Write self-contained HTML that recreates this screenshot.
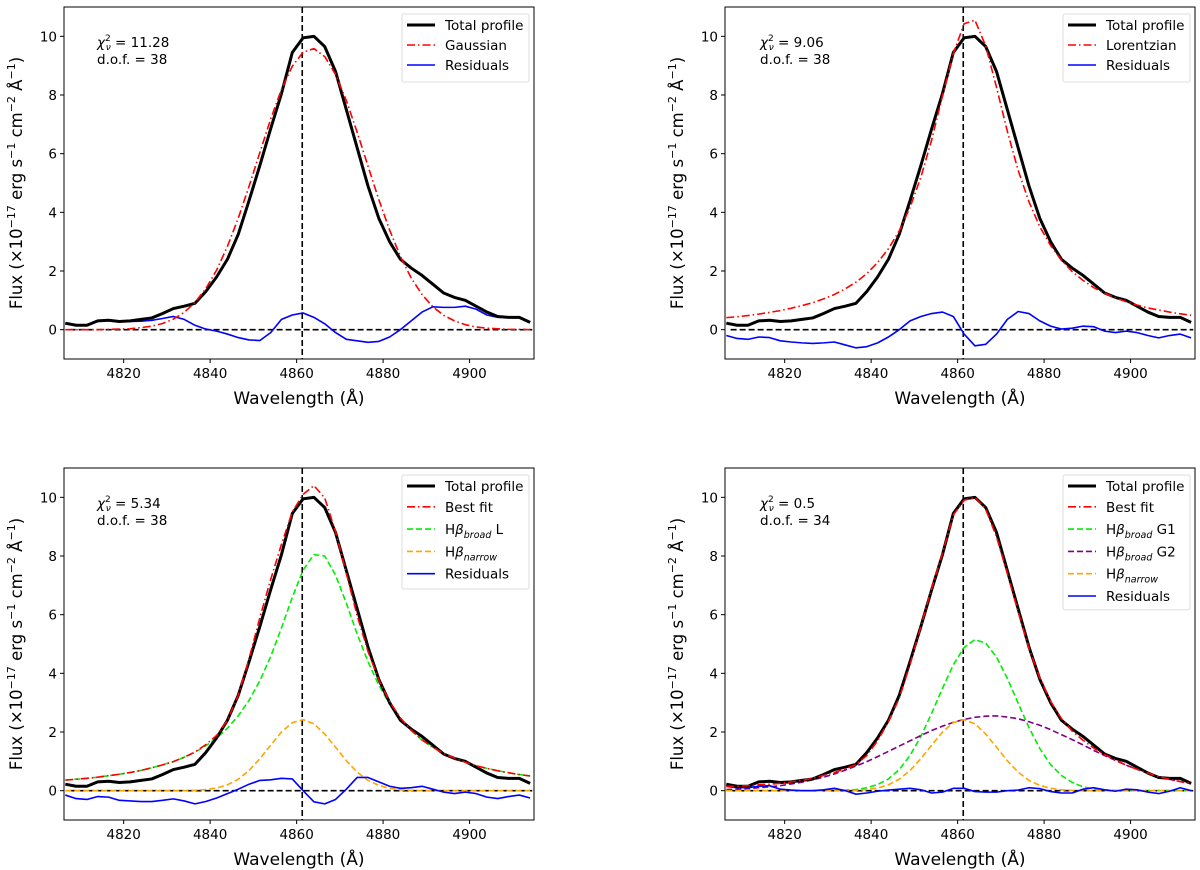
<!DOCTYPE html>
<html><head><meta charset="utf-8"><style>
html,body{margin:0;padding:0;background:#fff;}
svg{display:block;font-family:"DejaVu Sans","Liberation Sans",sans-serif;}
</style></head><body>
<svg id="fig" width="1200" height="870" viewBox="0 0 1200 870" xmlns="http://www.w3.org/2000/svg"></svg>
<script>
const wavelengths=[4806.5,4809,4811.5,4814,4816.5,4819,4821.5,4824,4826.5,4829,4831.5,4834,4836.5,4839,4841.5,4844,4846.5,4849,4851.5,4854,4856.5,4859,4861.5,4864,4866.5,4869,4871.5,4874,4876.5,4879,4881.5,4884,4886.5,4889,4891.5,4894,4896.5,4899,4901.5,4904,4906.5,4909,4911.5,4914];
const totalProfile=[0.22,0.15,0.15,0.30,0.32,0.28,0.30,0.35,0.40,0.55,0.72,0.80,0.90,1.30,1.80,2.40,3.25,4.40,5.60,6.85,8.05,9.45,9.95,10.0,9.65,8.80,7.50,6.20,4.90,3.80,3.00,2.40,2.10,1.85,1.55,1.25,1.10,1.00,0.80,0.60,0.45,0.42,0.42,0.25];
const gaussianFit=[0,0,0,0,0.01,0.02,0.03,0.07,0.12,0.21,0.36,0.59,0.93,1.40,2.03,2.84,3.80,4.89,6.04,7.18,8.19,8.98,9.46,9.58,9.31,8.70,7.81,6.73,5.58,4.44,3.40,2.50,1.76,1.20,0.78,0.49,0.30,0.17,0.09,0.05,0.03,0.01,0.01,0];
const residualsGauss=[0.2,0.15,0.15,0.3,0.32,0.27,0.28,0.29,0.32,0.38,0.45,0.35,0.15,0.02,-0.05,-0.15,-0.27,-0.35,-0.37,-0.1,0.35,0.5,0.57,0.42,0.2,-0.1,-0.33,-0.38,-0.43,-0.4,-0.25,0,0.3,0.6,0.78,0.76,0.76,0.8,0.7,0.5,0.42,0.42,0.42,0.25];
const lorentzFit=[0.41,0.44,0.48,0.53,0.59,0.65,0.73,0.82,0.92,1.05,1.20,1.39,1.62,1.91,2.29,2.76,3.37,4.17,5.20,6.47,7.97,9.41,10.43,10.55,9.67,8.26,6.76,5.43,4.36,3.51,2.87,2.37,1.98,1.68,1.43,1.24,1.08,0.95,0.84,0.74,0.67,0.60,0.54,0.49];
const residualsLorentz=[-0.2,-0.3,-0.33,-0.25,-0.27,-0.38,-0.42,-0.45,-0.47,-0.45,-0.42,-0.52,-0.62,-0.58,-0.45,-0.25,0.0,0.3,0.45,0.55,0.6,0.45,-0.15,-0.55,-0.5,-0.15,0.35,0.62,0.55,0.3,0.12,0.02,0.05,0.12,0.1,-0.05,-0.1,-0.05,-0.1,-0.2,-0.28,-0.2,-0.15,-0.28];
const bestFitLN=[0.36,0.39,0.42,0.46,0.51,0.56,0.62,0.69,0.78,0.88,0.99,1.14,1.32,1.57,1.88,2.40,3.25,4.50,5.90,7.20,8.40,9.50,10.10,10.40,9.98,8.83,7.41,5.97,4.75,3.78,3.04,2.48,2.06,1.73,1.48,1.27,1.11,0.97,0.85,0.76,0.68,0.61,0.55,0.50];
const broadL=[0.36,0.39,0.42,0.46,0.51,0.56,0.62,0.69,0.78,0.88,0.99,1.14,1.31,1.53,1.79,2.13,2.55,3.08,3.75,4.57,5.55,6.59,7.52,8.05,8.00,7.35,6.39,5.34,4.40,3.60,2.96,2.45,2.05,1.73,1.48,1.27,1.11,0.97,0.85,0.76,0.68,0.61,0.55,0.50];
const narrowComp=[0,0,0,0,0,0,0,0,0,0,0,0,0.01,0.04,0.09,0.20,0.39,0.69,1.09,1.55,2.00,2.32,2.42,2.28,1.93,1.48,1.02,0.63,0.35,0.18,0.08,0.03,0.01,0,0,0,0,0,0,0,0,0,0,0];
const residualsLN=[-0.15,-0.27,-0.3,-0.2,-0.22,-0.33,-0.35,-0.37,-0.37,-0.33,-0.28,-0.35,-0.45,-0.37,-0.25,-0.1,0.05,0.22,0.35,0.37,0.42,0.4,0.0,-0.38,-0.45,-0.3,0.05,0.45,0.45,0.3,0.15,0.08,0.1,0.15,0.05,-0.05,-0.1,-0.05,-0.1,-0.22,-0.27,-0.2,-0.15,-0.25];
const bestFitGGN=[0.15,0.15,0.17,0.2,0.22,0.25,0.3,0.35,0.42,0.52,0.62,0.74,0.89,1.20,1.70,2.35,3.15,4.30,5.60,6.90,8.10,9.40,9.90,10.0,9.60,8.65,7.40,6.10,4.85,3.85,3.05,2.46,2.03,1.72,1.45,1.23,1.04,0.87,0.73,0.60,0.48,0.39,0.31,0.24];
const broadG1=[0,0,0,0,0,0,0,0,0,0,0.01,0.02,0.04,0.10,0.21,0.40,0.72,1.20,1.85,2.64,3.49,4.29,4.88,5.15,5.03,4.55,3.83,2.98,2.15,1.44,0.89,0.52,0.28,0.13,0.06,0.03,0.01,0,0,0,0,0,0,0];
const broadG2=[0.04,0.05,0.07,0.10,0.13,0.17,0.23,0.29,0.37,0.46,0.57,0.70,0.84,0.99,1.16,1.34,1.52,1.70,1.88,2.05,2.20,2.33,2.43,2.50,2.54,2.55,2.51,2.45,2.35,2.23,2.08,1.91,1.74,1.56,1.37,1.20,1.03,0.87,0.73,0.60,0.48,0.39,0.31,0.24];
const residualsGGN=[0.15,0.1,0.1,0.15,0.17,0.05,0.02,0,0,0.03,0.08,0,-0.12,-0.08,-0.02,0.02,0.05,0.08,0.03,-0.08,-0.05,0.08,0.08,-0.03,-0.05,-0.05,0,0.02,0.1,0.07,-0.03,-0.08,-0.08,0.05,0.1,0.03,-0.02,0.05,0.03,-0.05,-0.1,-0.02,0.1,0];
const xTicks=[4820,4840,4860,4880,4900];
const yTicks=[0,2,4,6,8,10];
const hbetaRest=4861.3;

const NS='http://www.w3.org/2000/svg';
const svg=document.getElementById('fig');
function mk(tag,attrs,parent){const e=document.createElementNS(NS,tag);for(const k in attrs)e.setAttribute(k,attrs[k]);(parent||svg).appendChild(e);return e;}

const panels=[
 {left:64,top:7,chi:'11.28',dof:'38',series:[
   {name:'total-profile',label:'Total profile',data:totalProfile,color:'#000',w:3,dash:null},
   {name:'gaussian-fit',label:'Gaussian',data:gaussianFit,color:'#f00',w:1.6,dash:'8,3,1.5,3'},
   {name:'residuals',label:'Residuals',data:residualsGauss,color:'#00f',w:1.6,dash:null}]},
 {left:725,top:7,chi:'9.06',dof:'38',series:[
   {name:'total-profile',label:'Total profile',data:totalProfile,color:'#000',w:3,dash:null},
   {name:'lorentzian-fit',label:'Lorentzian',data:lorentzFit,color:'#f00',w:1.6,dash:'8,3,1.5,3'},
   {name:'residuals',label:'Residuals',data:residualsLorentz,color:'#00f',w:1.6,dash:null}]},
 {left:64,top:468,chi:'5.34',dof:'38',series:[
   {name:'total-profile',label:'Total profile',data:totalProfile,color:'#000',w:3,dash:null},
   {name:'best-fit',label:'Best fit',data:bestFitLN,color:'#f00',w:1.6,dash:'8,3,1.5,3'},
   {name:'hbeta-broad-l',label:['broad',' L'],data:broadL,color:'#00ee00',w:1.6,dash:'6,3'},
   {name:'hbeta-narrow',label:['narrow',''],data:narrowComp,color:'#ffa500',w:1.6,dash:'6,3'},
   {name:'residuals',label:'Residuals',data:residualsLN,color:'#00f',w:1.6,dash:null}]},
 {left:725,top:468,chi:'0.5',dof:'34',series:[
   {name:'total-profile',label:'Total profile',data:totalProfile,color:'#000',w:3,dash:null},
   {name:'best-fit',label:'Best fit',data:bestFitGGN,color:'#f00',w:1.6,dash:'8,3,1.5,3'},
   {name:'hbeta-broad-g1',label:['broad',' G1'],data:broadG1,color:'#00ee00',w:1.6,dash:'6,3'},
   {name:'hbeta-broad-g2',label:['broad',' G2'],data:broadG2,color:'#800080',w:1.6,dash:'6,3'},
   {name:'hbeta-narrow',label:['narrow',''],data:narrowComp,color:'#ffa500',w:1.6,dash:'6,3'},
   {name:'residuals',label:'Residuals',data:residualsGGN,color:'#00f',w:1.6,dash:null}]}
];

const W=470,H=352,XMIN=4806.2,XMAX=4914.9,YMIN=-1,YMAX=11;
panels.forEach((p,pi)=>{
  const g=mk('g',{});
  
  
  const X=v=>p.left+(v-XMIN)/(XMAX-XMIN)*W;
  const Y=v=>p.top+(YMAX-v)/(YMAX-YMIN)*H;
  const cid='clip'+pi;
  const cp=mk('clipPath',{id:cid},g);mk('rect',{x:p.left,y:p.top,width:W,height:H},cp);
  const plot=mk('g',{'clip-path':'url(#'+cid+')'},g);
  const zl=mk('line',{x1:X(4807.5),x2:X(4914.5),y1:Y(0),y2:Y(0),stroke:'#000','stroke-width':1.6,'stroke-dasharray':'6,3'},plot);
  
  
  const vl=mk('line',{x1:X(hbetaRest),x2:X(hbetaRest),y1:p.top,y2:p.top+H,stroke:'#000','stroke-width':1.6,'stroke-dasharray':'6,3'},plot);
  
  
  const order=p.series.slice(2).concat([p.series[0],p.series[1]]);
  order.forEach(s=>{
    const d=s.data.map((v,i)=>(i?'L':'M')+X(wavelengths[i]).toFixed(2)+','+Y(v).toFixed(2)).join('');
    const a={d:d,fill:'none',stroke:s.color,'stroke-width':s.w,'stroke-linejoin':'round'};
    if(s.dash)a['stroke-dasharray']=s.dash;
    const path=mk('path',a,plot);
    
    
  });
  const fr=mk('rect',{x:p.left,y:p.top,width:W,height:H,fill:'none',stroke:'#000','stroke-width':1},g);
  
  
  xTicks.forEach(t=>{
    mk('line',{x1:X(t),x2:X(t),y1:p.top+H,y2:p.top+H+4,stroke:'#000','stroke-width':1},g);
    const tx=mk('text',{x:X(t),y:p.top+H+19,'font-size':13.5,'text-anchor':'middle'},g);
    tx.textContent=t;
    
    
  });
  yTicks.forEach(t=>{
    mk('line',{x1:p.left-4,x2:p.left,y1:Y(t),y2:Y(t),stroke:'#000','stroke-width':1},g);
    const ty=mk('text',{x:p.left-7,y:Y(t)+5,'font-size':13.5,'text-anchor':'end'},g);
    ty.textContent=t;
    
    
  });
  const xl=mk('text',{x:p.left+W/2,y:p.top+H+45,'font-size':17,'text-anchor':'middle'},g);
  xl.textContent='Wavelength (Å)';
  
  
  const cy=p.top+H/2, cx=p.left-42;
  const yl=mk('text',{x:cx,y:cy,'font-size':16.5,'text-anchor':'middle',transform:'rotate(-90 '+cx+' '+cy+')'},g);
  yl.innerHTML='Flux (×10<tspan dy="-7" font-size="11">−17</tspan><tspan dy="7"> erg s</tspan><tspan dy="-7" font-size="11">−1</tspan><tspan dy="7"> cm</tspan><tspan dy="-7" font-size="11">−2</tspan><tspan dy="7"> Å</tspan><tspan dy="-7" font-size="11">−1</tspan><tspan dy="7">)</tspan>';
  
  
  const ax=p.left+(pi%2?35:33);
  const an=mk('text',{x:ax,y:p.top+40,'font-size':13.5},g);
  an.innerHTML='<tspan font-style="italic">χ</tspan><tspan dy="-6" font-size="9">2</tspan><tspan dx="-5" dy="9" font-size="9" font-style="italic">ν</tspan><tspan dy="-3"> = '+p.chi+'</tspan>';
  
  
  const an2=mk('text',{x:ax,y:p.top+57,'font-size':13.5},g);
  an2.textContent='d.o.f. = '+p.dof;
  
  
  const lx=p.left+W-132, ly=p.top+7, n=p.series.length;
  const rowH=n>3?20.8:20;
  const lg=mk('g',{},g);
  
  
  mk('rect',{x:lx,y:ly,width:127,height:8+rowH*n+(n>3?2:0),fill:'#fff','fill-opacity':0.8,stroke:'#ddd','stroke-width':1,rx:2},lg);
  p.series.forEach((s,i)=>{
    const ry=ly+11+i*rowH+(n>3&&i>1?1.5*(i-1):0);
    const a={x1:lx+5,x2:lx+33,y1:ry,y2:ry,stroke:s.color,'stroke-width':s.w};
    if(s.dash)a['stroke-dasharray']=s.dash;
    mk('line',a,lg);
    const t=mk('text',{x:lx+43,y:ry+5,'font-size':13.5},lg);
    if(Array.isArray(s.label)){
      t.innerHTML='H<tspan font-style="italic">β</tspan><tspan dy="4" font-size="9.5" font-style="italic">'+s.label[0]+'</tspan><tspan dy="-4">'+s.label[1]+'</tspan>';
    } else t.textContent=s.label;
    
    
  });
});
</script>
</body></html>
